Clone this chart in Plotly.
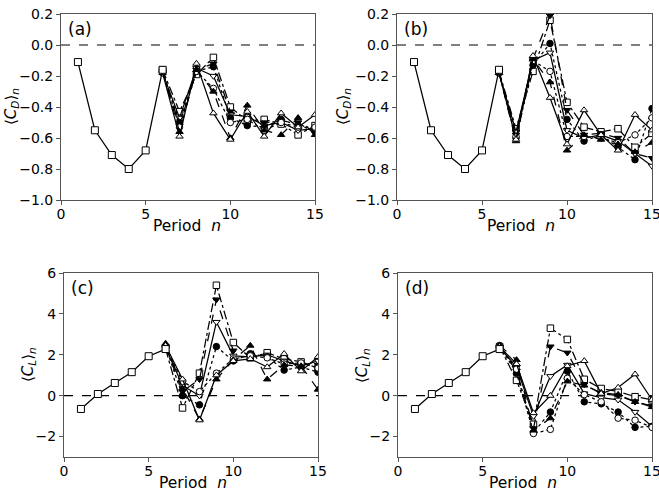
import plotly.graph_objects as go

# ---------------- data ----------------
n_base = [1, 2, 3, 4, 5, 6]
n_branch = [6, 7, 8, 9, 10, 11, 12, 13, 14, 15]

cd_base = [-0.11, -0.55, -0.71, -0.80, -0.68, -0.16]
cl_base = [-0.65, 0.08, 0.62, 1.15, 1.93, 2.28]

series_names = ["S1", "S2", "S3", "S4", "S5", "S6", "S7"]

cd_a = {
    "S1": [-0.16, -0.43, -0.19, -0.08, -0.40, -0.49, -0.48, -0.51, -0.58, -0.52],
    "S2": [-0.17, -0.52, -0.16, -0.12, -0.43, -0.47, -0.50, -0.49, -0.50, -0.57],
    "S3": [-0.18, -0.47, -0.15, -0.20, -0.45, -0.46, -0.52, -0.50, -0.55, -0.54],
    "S4": [-0.17, -0.50, -0.17, -0.14, -0.47, -0.52, -0.53, -0.48, -0.52, -0.55],
    "S5": [-0.18, -0.53, -0.17, -0.28, -0.50, -0.48, -0.55, -0.50, -0.53, -0.53],
    "S6": [-0.17, -0.56, -0.16, -0.30, -0.60, -0.39, -0.55, -0.58, -0.47, -0.58],
    "S7": [-0.18, -0.59, -0.12, -0.44, -0.61, -0.43, -0.59, -0.44, -0.53, -0.45],
}
cd_b = {
    "S1": [-0.17, -0.54, -0.17, 0.16, -0.37, -0.53, -0.56, -0.54, -0.66, -0.57],
    "S2": [-0.17, -0.58, -0.09, 0.19, -0.42, -0.58, -0.57, -0.60, -0.70, -0.73],
    "S3": [-0.18, -0.56, -0.10, -0.05, -0.55, -0.60, -0.58, -0.62, -0.70, -0.78],
    "S4": [-0.18, -0.60, -0.13, 0.01, -0.48, -0.62, -0.58, -0.66, -0.74, -0.41],
    "S5": [-0.18, -0.59, -0.10, -0.17, -0.59, -0.59, -0.60, -0.63, -0.58, -0.47],
    "S6": [-0.18, -0.62, -0.09, -0.24, -0.68, -0.58, -0.61, -0.64, -0.69, -0.63],
    "S7": [-0.18, -0.61, -0.07, -0.34, -0.64, -0.42, -0.58, -0.68, -0.45, -0.55],
}
cl_c = {
    "S1": [2.28, -0.60, 1.10, 5.40, 2.60, 1.85, 2.10, 1.80, 1.65, 1.35],
    "S2": [2.40, 0.20, 0.80, 4.70, 2.20, 2.00, 1.95, 1.70, 1.55, 1.50],
    "S3": [2.35, 0.50, 0.00, 3.60, 1.95, 1.90, 2.00, 1.70, 1.45, 1.70],
    "S4": [2.40, 0.00, -0.45, 2.40, 1.70, 2.05, 1.90, 1.25, 1.40, 1.15],
    "S5": [2.35, 0.70, 0.20, 1.10, 1.80, 1.95, 1.85, 1.55, 1.60, 1.35],
    "S6": [2.55, 0.35, -1.15, 0.80, 1.75, 2.45, 0.80, 1.50, 1.45, 0.30],
    "S7": [2.45, 0.80, -1.20, 1.00, 1.70, 1.80, 1.40, 2.05, 1.20, 1.90],
}
cl_d = {
    "S1": [2.40, 0.75, -1.40, 3.30, 2.75, 0.80, 0.35, 0.20, -0.05, -0.20],
    "S2": [2.40, 1.20, -1.60, 2.40, 2.10, 0.55, 0.10, 0.00, -0.30, -0.50],
    "S3": [2.35, 1.40, -1.00, 0.95, 1.50, 0.10, -0.10, -0.20, -0.80, -1.50],
    "S4": [2.45, 1.10, -1.80, -0.80, 1.20, -0.30, -0.40, -0.80, -1.55, -1.50],
    "S5": [2.40, 1.30, -1.85, -1.65, 0.85, 0.05, -0.30, -1.10, -1.20, -1.55],
    "S6": [2.45, 1.75, -1.70, -1.10, 0.70, 0.50, 0.15, 0.05, -0.30, -0.55],
    "S7": [2.40, 1.55, -0.85, 0.00, 1.45, 1.70, 0.10, 0.40, 1.05, -0.20],
}

panel_labels = ["(a)", "(b)", "(c)", "(d)"]

# ---------------- styles ----------------
W, H = 659, 503
styles = {
    "S1": dict(symbol="square", fill="white", dash="dashdot"),
    "S2": dict(symbol="triangle-down", fill="black", dash="dash"),
    "S3": dict(symbol="triangle-down", fill="white", dash="solid"),
    "S4": dict(symbol="circle", fill="black", dash="dot"),
    "S5": dict(symbol="circle", fill="white", dash="dot"),
    "S6": dict(symbol="triangle-up", fill="black", dash="dash"),
    "S7": dict(symbol="triangle-up", fill="white", dash="solid"),
}

# plot-area boxes in page pixels: (left, right, top, bottom)
boxes = [(61, 315, 14, 200), (397, 652, 14, 200), (64, 318, 273, 457), (398, 652, 273, 457)]
xtitle_cx = [187, 521, 193, 523]
ytitle_cx = [12, 344, 28, 362]

fig = go.Figure()
panels = [(cd_base, cd_a), (cd_base, cd_b), (cl_base, cl_c), (cl_base, cl_d)]

for i, (base, br) in enumerate(panels):
    ax = "" if i == 0 else str(i + 1)
    for s in series_names:
        st = styles[s]
        fig.add_trace(go.Scatter(
            x=n_branch, y=br[s], mode="lines+markers", xaxis="x" + ax, yaxis="y" + ax,
            line=dict(color="black", width=1.25, dash=st["dash"]),
            marker=dict(symbol=st["symbol"], size=6.5, color=st["fill"],
                        line=dict(color="black", width=1)),
            showlegend=False, hoverinfo="skip"))
    fig.add_trace(go.Scatter(
        x=n_base, y=base, mode="lines+markers", xaxis="x" + ax, yaxis="y" + ax,
        line=dict(color="black", width=1.25),
        marker=dict(symbol="square", size=7, color="white", line=dict(color="black", width=1)),
        showlegend=False, hoverinfo="skip"))

font_fam = "DejaVu Sans"
layout = dict(width=W, height=H, margin=dict(l=0, r=0, t=0, b=0, autoexpand=False),
              paper_bgcolor="white", plot_bgcolor="white",
              font=dict(family=font_fam, color="black"))
annotations = []
shapes = []


def px(x):
    return x / W


def py(y):
    return 1 - y / H


for i, (l, r, t, b) in enumerate(boxes):
    ax = "" if i == 0 else str(i + 1)
    is_cd = i < 2
    layout["xaxis" + ax] = dict(
        domain=[px(l), px(r)], anchor="y" + ax, range=[0, 15], tickvals=[0, 5, 10, 15],
        showline=True, linecolor="#555", linewidth=1, mirror=True, automargin=False,
        ticks="outside", ticklen=4, tickcolor="#555", showgrid=False, zeroline=False,
        ticklabelstandoff=-3,
        ticklabeloverflow="allow", tickfont=dict(size=14, family=font_fam))
    layout["yaxis" + ax] = dict(
        domain=[py(b), py(t)], anchor="x" + ax, automargin=False,
        range=[-1.0, 0.2] if is_cd else [-3, 6],
        tickvals=[-1.0, -0.8, -0.6, -0.4, -0.2, 0.0, 0.2] if is_cd else [-2, 0, 2, 4, 6],
        tickformat=".1f" if is_cd else "d",
        showline=True, linecolor="#555", linewidth=1, mirror=True,
        ticks="outside", ticklen=4, tickcolor="#555", showgrid=False, zeroline=False,
        ticklabeloverflow="allow", tickfont=dict(size=14, family=font_fam))
    shapes.append(dict(type="line", xref="x" + ax + " domain", yref="y" + ax,
                       x0=0, x1=1, y0=0, y1=0, layer="below",
                       line=dict(color="black", width=1.2, dash="dash")))
    annotations.append(dict(text=panel_labels[i], xref="paper", yref="paper",
                            x=px(l + 5), y=py(t + 3), xanchor="left", yanchor="top",
                            showarrow=False, font=dict(size=17, family=font_fam)))
    annotations.append(dict(text="Period  <i>n</i>", xref="paper", yref="paper",
                            x=px(xtitle_cx[i]), y=py(b + 26), xanchor="center", yanchor="middle",
                            showarrow=False, font=dict(size=15.5, family=font_fam)))
    ytxt = ("⟨<i>C</i><sub><i>D</i></sub>⟩<sub><i>n</i></sub>" if is_cd
            else "⟨<i>C</i><sub><i>L</i></sub>⟩<sub><i>n</i></sub>")
    annotations.append(dict(text=ytxt, xref="paper", yref="paper",
                            x=px(ytitle_cx[i]), y=py((t + b) / 2),
                            xanchor="center", yanchor="middle", textangle=-90,
                            showarrow=False, font=dict(size=15, family=font_fam)))
layout["annotations"] = annotations
layout["shapes"] = shapes
fig.update_layout(**layout)
fig.write_html("out.html", config={"displayModeBar": False},
               post_script="document.body.style.margin='0px';")
